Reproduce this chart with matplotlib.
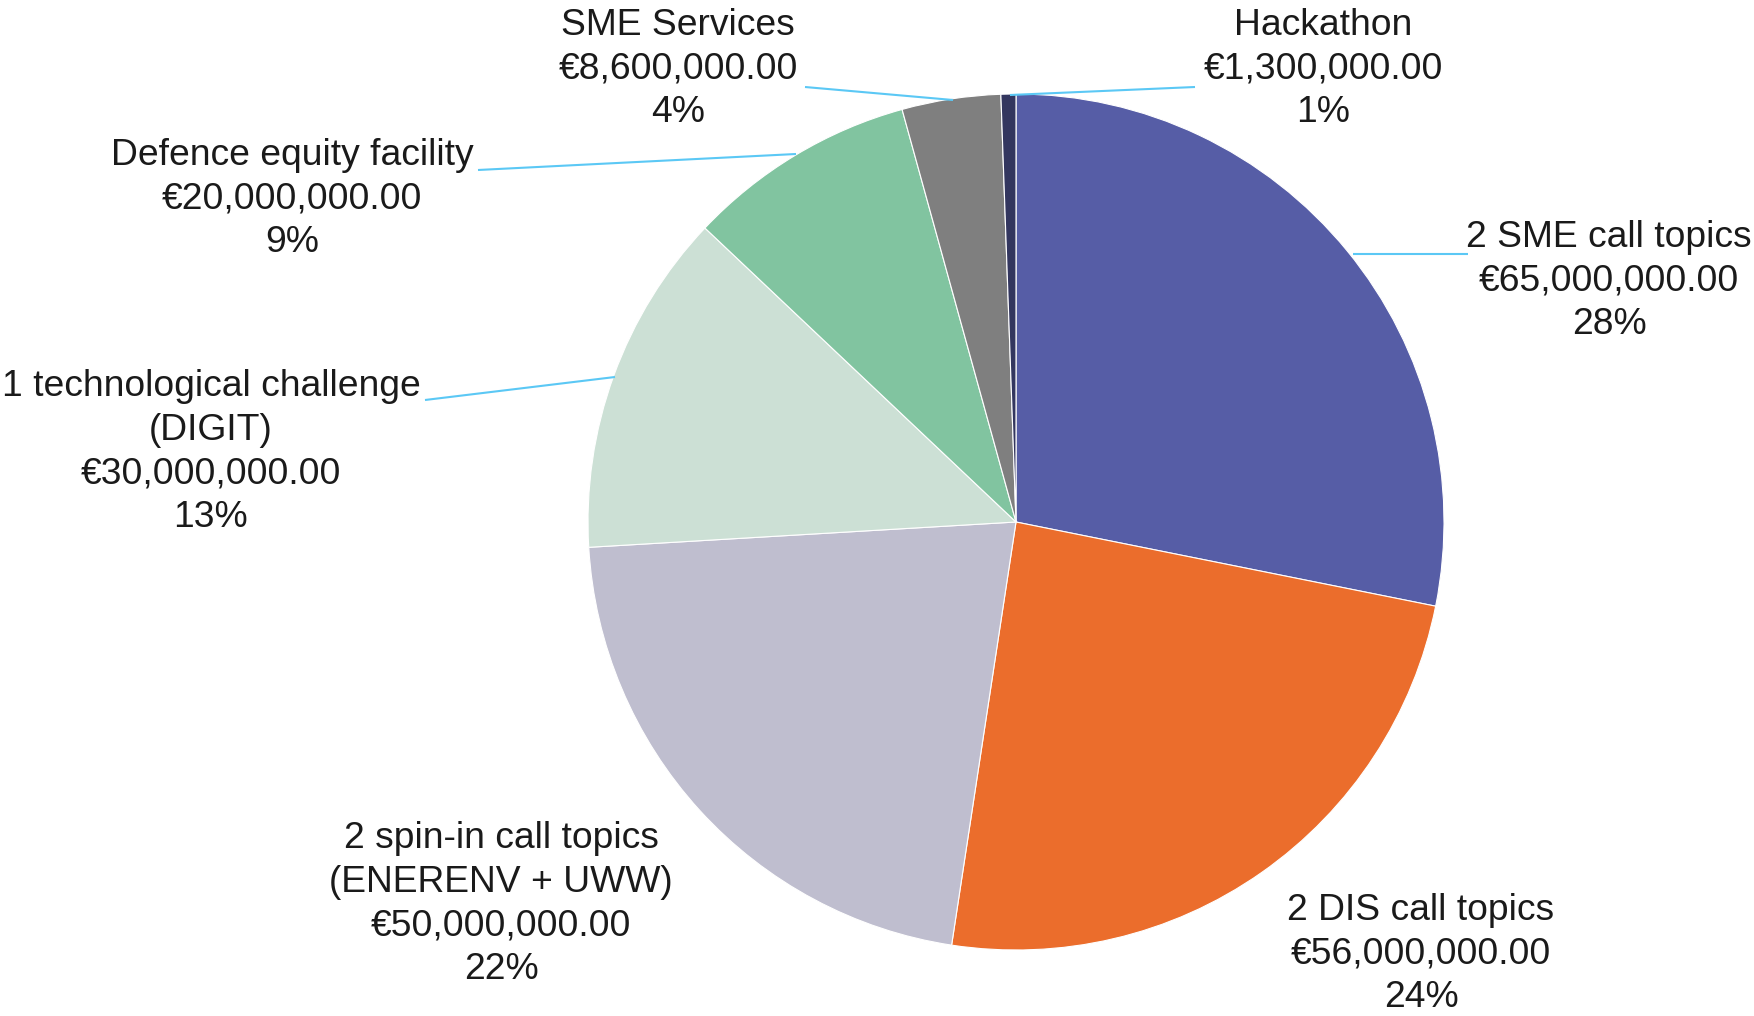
import matplotlib
matplotlib.use("Agg")
import matplotlib.pyplot as plt

categories = ["2 SME call topics", "2 DIS call topics", "2 spin-in call topics\n(ENERENV + UWW)",
              "1 technological challenge\n(DIGIT)", "Defence equity facility", "SME Services", "Hackathon"]
values = [65000000, 56000000, 50000000, 30000000, 20000000, 8600000, 1300000]
colors = ["#565DA6", "#EB6D2C", "#BFBECF", "#CCE0D5", "#81C4A0", "#7F7F7F", "#33365F"]

W, H = 1754, 1016
fig = plt.figure(figsize=(W / 100, H / 100), dpi=100)
ax = fig.add_axes([0, 0, 1, 1])
ax.set_xlim(0, W)
ax.set_ylim(0, H)
ax.set_aspect("equal")
ax.axis("off")

cx, cy, r = 1016, H - 522, 428
ax.pie(values, colors=colors, startangle=90, counterclock=False, center=(cx, cy), radius=r,
       wedgeprops=dict(edgecolor="white", linewidth=0.8))
ax.set_xlim(0, W)
ax.set_ylim(0, H)

# label positions (image px) and leader lines
label_pos = [(1609, 281), (1421, 954), (501, 904), (211, 452), (292, 199), (678, 69), (1323, 69)]
leaders = [
    [(1353, 254), (1468, 254)],
    None,
    None,
    [(615, 377), (425, 400)],
    [(796, 154), (478, 170)],
    [(953, 100), (805, 87)],
    [(1010, 95), (1195, 87)],
]

total = sum(values)
for cat, v, (x, y), ld in zip(categories, values, label_pos, leaders):
    txt = f"{cat}\n€{v:,.2f}\n{round(100 * v / total):.0f}%"
    ax.text(x, H - y, txt, ha="center", va="center", fontsize=26.8, family="Liberation Sans",
            color="#1a1a1a", linespacing=1.33)
    if ld:
        ax.plot([p[0] for p in ld], [H - p[1] for p in ld], color="#5BC8F5", lw=1.5,
                solid_capstyle="butt")

fig.savefig("out.png", dpi=100, facecolor="white")
